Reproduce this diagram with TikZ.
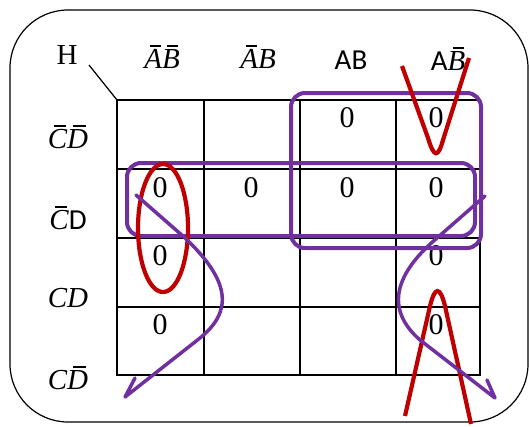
\documentclass[tikz,border=0pt]{standalone}
\usepackage{fontspec}
\setmainfont{Liberation Serif}
\newfontfamily\calib{Carlito}
\usetikzlibrary{arrows.meta}
\definecolor{kpurple}{HTML}{7030A0}
\definecolor{kred}{HTML}{C00000}
\newcommand\ovl[1]{\leavevmode\setbox0\hbox{\itshape #1}\rlap{\hspace{0.3\wd0}\raisebox{0.74em}{\rule{0.62\wd0}{0.055em}}}\box0}
\newcommand\itl[1]{{\itshape #1}}
\begin{document}
\begin{tikzpicture}[x=1pt,y=-1pt,
  lbl/.style={inner sep=0pt,font=\fontsize{29}{32}\selectfont},
  zero/.style={inner sep=0pt,font=\fontsize{30}{34}\selectfont},
  grp/.style={draw=kpurple,line width=4pt,rounded corners=14pt},
  loopr/.style={draw=kred,line width=4.2pt},
  wave/.style={draw=kpurple,line width=3.5pt,line cap=round,line join=round}]
\useasboundingbox (0,0) rectangle (529,426);
\draw[line width=1.2pt,rounded corners=58pt] (10,10) rectangle (528,422);
% grid
\draw[line width=1.3pt] (117,100) rectangle (480,375);
\foreach \x in {204,300,396} \draw[line width=1.3pt] (\x,100) -- (\x,375);
\foreach \y in {169,238,307} \draw[line width=1.3pt] (117,\y) -- (480,\y);
% labels
\node[lbl] (h) at (67,55) {H};
\coordinate (corner) at (117,100);
\draw[line width=1.2pt] (89,65) -- (corner);
\node[lbl] (c1) at (162,57) {\ovl{A}\ovl{B}};
\node[lbl] (c2) at (258,57) {\ovl{A}\itl{B}};
\node[lbl] (c3) at (351,60) {\calib AB};
\node[lbl] (c4) at (448,59) {{\calib A}\ovl{B}};
\node[lbl] (r1) at (68,137) {\ovl{C}\ovl{D}};
\node[lbl] (r2) at (68,218) {\ovl{C}{\calib D}};
\node[lbl] (r3) at (68,298) {\itl{CD}};
\node[lbl] (r4) at (68,378) {\itl{C}\ovl{D}};
% zeros
\node[zero] (z13) at (347,118) {0};
\node[zero] (z14) at (436,118) {0};
\node[zero] (z21) at (160,188) {0};
\node[zero] (z22) at (251,188) {0};
\node[zero] (z23) at (347,188) {0};
\node[zero] (z24) at (436,188) {0};
\node[zero] (z31) at (160,256) {0};
\node[zero] (z34) at (436,256) {0};
\node[zero] (z41) at (160,325) {0};
\node[zero] (z44) at (436,325) {0};
% groups
\draw[grp] (291,93) rectangle (481,248);
\draw[grp] (127,163) rectangle (475,236);
\draw[loopr] (163,228) ellipse [x radius=25, y radius=64];
\draw[loopr] (402,66) -- (428,138) .. controls (434,158) and (438,158) .. (443,140) -- (469,58);
\draw[loopr] (405,416) -- (430,306) .. controls (435,286) and (440,286) .. (445,306) -- (471,424);
% arrows
\coordinate (ls) at (136,195);
\coordinate (le) at (125,397);
\coordinate (lb) at (135,378);
\coordinate (rs) at (485,196);
\coordinate (re) at (495,398);
\coordinate (rb) at (487,380);
\draw[wave] (ls) -- (184,237) .. controls (232,282) and (232,312) .. (200,338) -- (le) -- (lb);
\draw[wave] (rs) -- (437,238) .. controls (390,278) and (388,312) .. (420,340) -- (re) -- (rb);
\end{tikzpicture}
\end{document}
